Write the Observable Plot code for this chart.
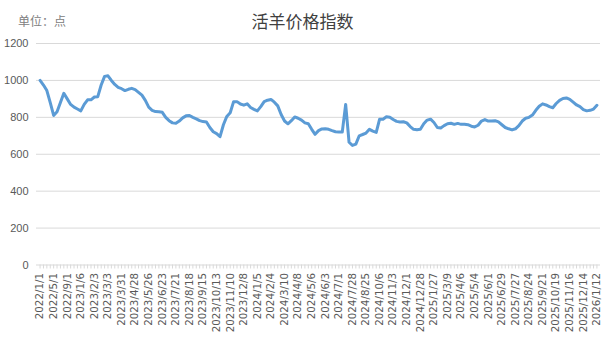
<!DOCTYPE html>
<html>
<head>
<meta charset="utf-8">
<script src="https://cdn.jsdelivr.net/npm/d3@7"></script>
<script src="https://cdn.jsdelivr.net/npm/@observablehq/plot@0.6"></script>
<style>
  html, body { margin: 0; padding: 0; background: #fff; }
  #wrap { position: relative; width: 605px; height: 340px; overflow: hidden; }
  #title { position: absolute; left: 0; top: 10px; width: 605px; text-align: center;
           font-family: "Noto Sans CJK SC", sans-serif; font-size: 17px; line-height: 22px; color: #404040; }
  #unit { position: absolute; left: 18px; top: 13px; font-family: "Noto Sans CJK SC", sans-serif;
          font-size: 12px; line-height: 16px; color: #808080; }
</style>
</head>
<body>
<div id="wrap">
  <div id="title">活羊价格指数</div>
  <div id="unit">单位：点</div>
</div>
<script>
const tickLabels = [
  "2022/1/1","2022/5/1","2022/9/1","2023/1/6","2023/2/3","2023/3/3","2023/3/31","2023/4/28",
  "2023/5/26","2023/6/23","2023/7/21","2023/8/18","2023/9/15","2023/10/13","2023/11/10","2023/12/8",
  "2024/1/5","2024/2/4","2024/3/10","2024/4/8","2024/5/6","2024/6/3","2024/7/1","2024/7/28",
  "2024/8/25","2024/10/6","2024/11/3","2024/12/1","2024/12/28","2025/1/27","2025/3/9","2025/4/6",
  "2025/5/4","2025/6/1","2025/6/29","2025/7/27","2025/8/24","2025/9/21","2025/10/19","2025/11/16",
  "2025/12/14","2026/1/12"
];
const priceIndex = [
  1000, 975, 945, 880, 810, 830, 880, 930, 900, 870, 855, 845,
  835, 870, 895, 895, 910, 912, 975, 1022, 1025, 1000, 978, 962,
  955, 945, 952, 957, 950, 935, 920, 892, 855, 838, 831, 830,
  827, 800, 782, 770, 768, 780, 797, 808, 810, 800, 792, 782,
  777, 775, 745, 722, 712, 695, 760, 805, 825, 885, 885, 872,
  866, 873, 853, 843, 835, 858, 885, 893, 897, 882, 862, 815,
  780, 765, 782, 802, 795, 785, 770, 765, 735, 708, 728, 737,
  738, 735, 728, 722, 721, 720, 870, 665, 648, 655, 700, 707,
  715, 735, 725, 718, 790, 790, 803, 800, 788, 778, 775, 776,
  770, 750, 735, 733, 735, 765, 785, 790, 772, 745, 742, 755,
  765, 768, 762, 767, 762, 763, 760, 752, 748, 757, 780, 788,
  780, 780, 782, 775, 760, 745, 738, 732, 738, 755, 780, 795,
  800, 812, 838, 860, 873, 867, 858, 852, 875, 892, 902, 905,
  897, 882, 867, 858, 842, 835, 838, 845, 865
];
const yTicks = [0, 200, 400, 600, 800, 1000, 1200];
const labelEvery = 4;

const data = priceIndex.map((v, i) => ({i, v}));
const idx = data.map(d => d.i);

const chart = Plot.plot({
  width: 605,
  height: 340,
  marginTop: 43,
  marginBottom: 75.5,
  marginLeft: 36,
  marginRight: 5,
  style: {background: "transparent"},
  x: {type: "point", domain: idx, padding: 1.05, label: null},
  y: {domain: [0, 1200], label: null},
  marks: [
    Plot.ruleY(yTicks, {stroke: "#d9d9d9", strokeWidth: 1}),
    Plot.axisY({ticks: yTicks, tickSize: 0, tickPadding: 8, label: null,
      tickFormat: d => String(d),
      fontSize: 11, fill: "#595959", fontFamily: "Liberation Sans"}),
    Plot.axisX({ticks: idx, tickSize: 4, tickPadding: 4, tickRotate: -90, label: null,
      stroke: "#d9d9d9", fill: "#595959", fontSize: 10.3, fontFamily: "DejaVu Sans",
      tickFormat: i => i % labelEvery === 0 ? tickLabels[i / labelEvery] : ""}),
    Plot.line(data, {x: "i", y: "v", stroke: "#5b9bd5", strokeWidth: 3,
      strokeLinejoin: "round", strokeLinecap: "round"})
  ]
});
chart.style.position = "absolute";
chart.style.left = "0";
chart.style.top = "0";
document.getElementById("wrap").prepend(chart);
</script>
</body>
</html>
